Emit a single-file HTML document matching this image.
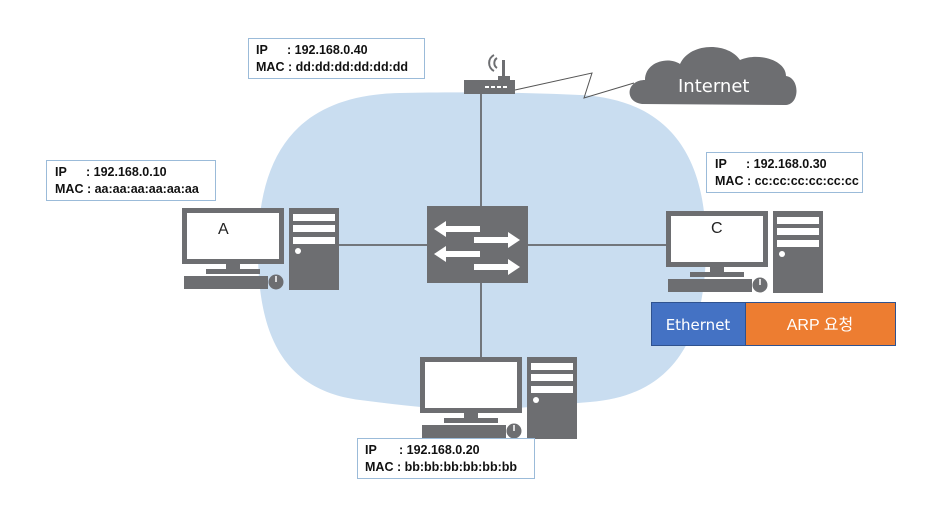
<!DOCTYPE html>
<html><head><meta charset="utf-8"><style>
body{margin:0;background:#fff;width:943px;height:517px;overflow:hidden}
svg{display:block}
.lbl{font-family:"Liberation Sans",sans-serif;font-weight:bold;font-size:12.5px;fill:#111}
</style></head><body>
<svg width="943" height="517" viewBox="0 0 943 517" xmlns="http://www.w3.org/2000/svg">
<defs>
<g id="pc">
<rect x="0" y="0" width="102" height="56" fill="#6d6e71"/>
<rect x="5" y="5" width="92" height="46" fill="#fff"/>
<rect x="44" y="56" width="14" height="7" fill="#6d6e71"/>
<rect x="24" y="61" width="54" height="5" fill="#6d6e71"/>
<rect x="2" y="68" width="84" height="13" fill="#6d6e71"/>
<circle cx="94" cy="74" r="7.5" fill="#6d6e71"/>
<line x1="94" y1="68" x2="94" y2="74" stroke="#fff" stroke-width="1.5"/>
<rect x="107" y="0" width="50" height="82" fill="#6d6e71"/>
<rect x="111" y="6" width="42" height="7" fill="#fff"/>
<rect x="111" y="17" width="42" height="7" fill="#fff"/>
<rect x="111" y="29" width="42" height="7" fill="#fff"/>
<circle cx="116" cy="43" r="3" fill="#fff"/>
</g>
</defs>
<path d="M258 250 C258 150 300 95 400 93 C450 92 520 92 580 95 C680 100 706 170 706 245 C706 330 680 395 590 402 C540 406 500 410 481 410 C440 410 400 405 360 400 C280 390 258 330 258 250 Z" fill="#c9ddf0"/>
<line x1="481" y1="93" x2="481" y2="360" stroke="#555" stroke-width="1.5"/>
<line x1="330" y1="245" x2="670" y2="245" stroke="#555" stroke-width="1.5"/>
<!-- router -->
<rect x="464" y="80" width="51" height="14" fill="#6d6e71"/>
<rect x="502" y="60" width="3" height="20" fill="#6d6e71"/>
<rect x="498" y="76" width="12" height="5" fill="#6d6e71"/>
<path d="M497 58 a6 6 0 0 0 0 10 M494 55 a9 9 0 0 0 0 16" stroke="#6d6e71" stroke-width="2" fill="none"/>
<g fill="#fff"><rect x="485" y="86" width="4" height="2"/><rect x="491" y="86" width="4" height="2"/><rect x="497" y="86" width="4" height="2"/><rect x="503" y="86" width="4" height="2"/></g>
<polyline points="515,90 592,73 584,98 634,83" fill="none" stroke="#555" stroke-width="1"/>
<!-- cloud -->
<path d="M642 104 C624 102 626 80 645 80 C645 62 668 56 680 64 C690 42 728 42 740 60 C758 52 786 60 786 76 C800 78 800 104 786 105 Z" fill="#6d6e71"/>
<text x="678" y="92" font-family="DejaVu Sans,sans-serif" font-size="18" fill="#fff">Internet</text>
<!-- switch -->
<rect x="427" y="206" width="101" height="77" fill="#6d6e71"/>
<g fill="#fff">
<polygon points="434,229 446,221 446,226 480,226 480,232 446,232 446,237"/>
<polygon points="520,240 508,232 508,237 474,237 474,243 508,243 508,248"/>
<polygon points="434,254 446,246 446,251 480,251 480,257 446,257 446,262"/>
<polygon points="520,267 508,259 508,264 474,264 474,270 508,270 508,275"/>
</g>
<use href="#pc" x="182" y="208"/>
<use href="#pc" x="666" y="211"/>
<use href="#pc" x="420" y="357"/>
<text x="218" y="234" font-family="Liberation Sans,sans-serif" font-size="16" fill="#222">A</text>
<text x="711" y="233" font-family="Liberation Sans,sans-serif" font-size="16" fill="#222">C</text>
<!-- labels -->
<g fill="#fff" stroke="#9bbbd9" stroke-width="1">
<rect x="248.5" y="38.5" width="176" height="40"/>
<rect x="46.5" y="160.5" width="169" height="40"/>
<rect x="706.5" y="152.5" width="156" height="40"/>
<rect x="357.5" y="438.5" width="177" height="40"/>
</g>
<text class="lbl" x="256" y="54">IP<tspan x="287">: 192.168.0.40</tspan></text>
<text class="lbl" x="256" y="71">MAC : dd:dd:dd:dd:dd:dd</text>
<text class="lbl" x="55" y="176">IP<tspan x="86">: 192.168.0.10</tspan></text>
<text class="lbl" x="55" y="193">MAC : aa:aa:aa:aa:aa:aa</text>
<text class="lbl" x="715" y="168">IP<tspan x="746">: 192.168.0.30</tspan></text>
<text class="lbl" x="715" y="185">MAC : cc:cc:cc:cc:cc:cc</text>
<text class="lbl" x="365" y="454">IP<tspan x="399">: 192.168.0.20</tspan></text>
<text class="lbl" x="365" y="471">MAC : bb:bb:bb:bb:bb:bb</text>
<!-- packet -->
<rect x="651.5" y="302.5" width="94" height="43" fill="#4472c4" stroke="#2f528f"/>
<rect x="745.5" y="302.5" width="150" height="43" fill="#ed7d31" stroke="#2f528f"/>
<text x="698" y="330" text-anchor="middle" font-family="DejaVu Sans,sans-serif" font-size="15" fill="#fff">Ethernet</text>
<text x="820" y="330" text-anchor="middle" font-family="'Liberation Sans','Noto Sans CJK KR',sans-serif" font-size="16" fill="#fff">ARP 요청</text>
</svg>
</body></html>
